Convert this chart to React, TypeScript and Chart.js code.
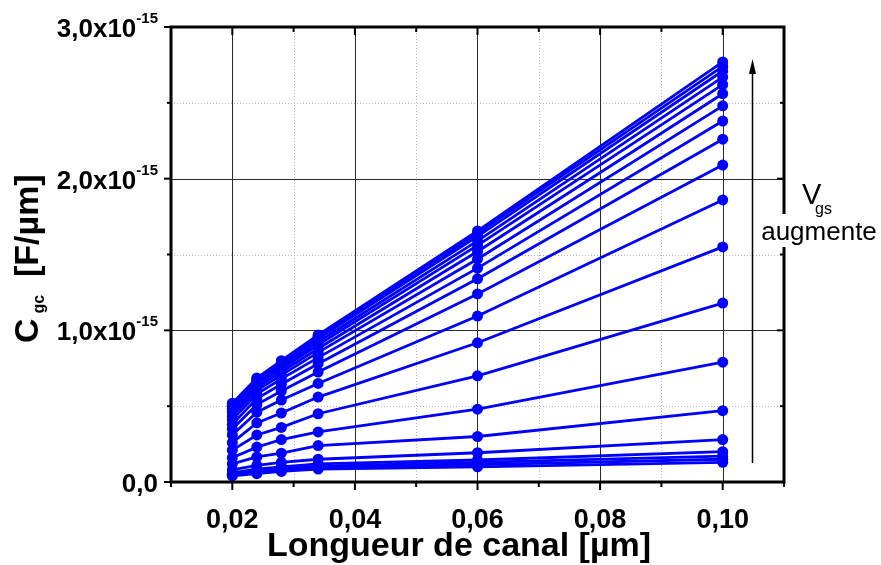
import React, { useEffect, useRef } from 'react';
import { Chart, registerables } from 'chart.js';

Chart.register(...registerables);

// Channel lengths [µm]
const channelLengths = [0.02, 0.024, 0.028, 0.034, 0.06, 0.1];

// Cgc values in units of 1e-15 F/µm, one array per channel length, lowest Vgs first
const cgcAtL020 = [0.04, 0.045, 0.05, 0.06, 0.08, 0.12, 0.16, 0.21, 0.26, 0.31, 0.35, 0.38, 0.41, 0.435, 0.455, 0.47, 0.485, 0.5, 0.51, 0.52];
const cgcAtL024 = [0.055, 0.062, 0.07, 0.085, 0.11, 0.165, 0.23, 0.31, 0.39, 0.46, 0.51, 0.55, 0.58, 0.605, 0.625, 0.645, 0.66, 0.67, 0.68, 0.686];
const cgcAtL028 = [0.07, 0.078, 0.086, 0.1, 0.13, 0.19, 0.28, 0.36, 0.455, 0.54, 0.6, 0.645, 0.68, 0.705, 0.725, 0.745, 0.76, 0.775, 0.79, 0.8];
const cgcAtL034 = [0.085, 0.095, 0.105, 0.12, 0.15, 0.24, 0.33, 0.45, 0.56, 0.65, 0.725, 0.78, 0.82, 0.855, 0.88, 0.905, 0.925, 0.945, 0.96, 0.97];
const cgcAtL060 = [0.1, 0.115, 0.13, 0.145, 0.193, 0.3, 0.48, 0.7, 0.918, 1.094, 1.24, 1.34, 1.41, 1.47, 1.52, 1.56, 1.59, 1.62, 1.64, 1.655];
const cgcAtL100 = [0.13, 0.15, 0.17, 0.2, 0.28, 0.47, 0.79, 1.18, 1.55, 1.86, 2.09, 2.26, 2.38, 2.48, 2.56, 2.62, 2.67, 2.71, 2.74, 2.77];

const cgcColumns = [cgcAtL020, cgcAtL024, cgcAtL028, cgcAtL034, cgcAtL060, cgcAtL100];

// Axes
const xMin = 0.01;
const xMax = 0.11;
const yMin = 0;
const yMax = 3.0;
const xTickValues = [0.02, 0.04, 0.06, 0.08, 0.1];
const xTickLabels = ['0,02', '0,04', '0,06', '0,08', '0,10'];
const xMinorValues = [0.03, 0.05, 0.07, 0.09];
const xAllTicks = [0.01, 0.02, 0.03, 0.04, 0.05, 0.06, 0.07, 0.08, 0.09, 0.1, 0.11];
const yTickValues = [0, 1, 2, 3];
const yTickMantissas = ['0,0', '1,0x10', '2,0x10', '3,0x10'];
const yTickExponents = ['', '-15', '-15', '-15'];
const yMinorValues = [0.5, 1.5, 2.5];
const yAllTicks = [0, 0.5, 1, 1.5, 2, 2.5, 3];

const xTitle = 'Longueur de canal [µm]';
const yTitleMain = 'C';
const yTitleSub = 'gc';
const yTitleUnit = '[F/µm]';
const annotV = 'V';
const annotSub = 'gs';
const annotText = 'augmente';

const FONT = '"Liberation Sans", Arial, Helvetica, sans-serif';
const BLUE = '#0000ff';

const decorPlugin = {
  id: 'decor',
  beforeDatasetsDraw(chart: any) {
    const { ctx, chartArea: a, scales } = chart;
    const x = scales.x;
    const y = scales.y;
    ctx.save();
    ctx.lineWidth = 1;
    ctx.strokeStyle = '#b8b8b8';
    ctx.setLineDash([1, 2]);
    for (const v of xMinorValues) {
      const px = Math.round(x.getPixelForValue(v)) + 0.5;
      ctx.beginPath(); ctx.moveTo(px, a.top); ctx.lineTo(px, a.bottom); ctx.stroke();
    }
    for (const v of yMinorValues) {
      const py = Math.round(y.getPixelForValue(v)) + 0.5;
      ctx.beginPath(); ctx.moveTo(a.left, py); ctx.lineTo(a.right, py); ctx.stroke();
    }
    ctx.setLineDash([]);
    ctx.strokeStyle = '#2a2a2a';
    for (const v of xTickValues) {
      const px = Math.round(x.getPixelForValue(v)) + 0.5;
      ctx.beginPath(); ctx.moveTo(px, a.top); ctx.lineTo(px, a.bottom); ctx.stroke();
    }
    for (const v of [1, 2]) {
      const py = Math.round(y.getPixelForValue(v)) + 0.5;
      ctx.beginPath(); ctx.moveTo(a.left, py); ctx.lineTo(a.right, py); ctx.stroke();
    }
    ctx.restore();
  },
  afterDraw(chart: any) {
    const { ctx, chartArea: a, scales } = chart;
    const x = scales.x;
    const y = scales.y;
    ctx.save();
    ctx.strokeStyle = '#000';
    ctx.fillStyle = '#000';

    // ticks
    ctx.lineWidth = 2;
    for (const v of xAllTicks) {
      const px = x.getPixelForValue(v);
      const major = Math.abs(Math.round(v * 100) % 2) === 0;
      const len = major ? 8 : 5;
      ctx.beginPath(); ctx.moveTo(px, a.bottom); ctx.lineTo(px, a.bottom + len); ctx.stroke();
      ctx.beginPath(); ctx.moveTo(px, a.top); ctx.lineTo(px, a.top + len); ctx.stroke();
    }
    for (const v of yAllTicks) {
      const py = y.getPixelForValue(v);
      const major = Number.isInteger(v);
      const len = major ? 7 : 4;
      ctx.beginPath(); ctx.moveTo(a.left, py); ctx.lineTo(a.left - len, py); ctx.stroke();
      ctx.beginPath(); ctx.moveTo(a.right, py); ctx.lineTo(a.right - len, py); ctx.stroke();
    }

    // frame
    ctx.lineWidth = 3;
    ctx.strokeRect(a.left, a.top, a.right - a.left, a.bottom - a.top);

    // x tick labels
    ctx.font = `bold 27px ${FONT}`;
    ctx.textAlign = 'center';
    ctx.textBaseline = 'alphabetic';
    xTickValues.forEach((v, i) => {
      ctx.fillText(xTickLabels[i], x.getPixelForValue(v), a.bottom + 46);
    });

    // y tick labels with exponent
    const rightEdge = a.left - 13;
    yTickValues.forEach((v, i) => {
      const py = y.getPixelForValue(v);
      ctx.textAlign = 'right';
      let supW = 0;
      if (yTickExponents[i]) {
        ctx.font = `bold 15px ${FONT}`;
        supW = ctx.measureText(yTickExponents[i]).width;
        ctx.fillText(yTickExponents[i], rightEdge, py - 4);
      }
      ctx.font = `bold 26px ${FONT}`;
      ctx.fillText(yTickMantissas[i], rightEdge - supW, py + 10);
    });

    // x title
    ctx.font = `bold 34px ${FONT}`;
    ctx.textAlign = 'center';
    ctx.fillText(xTitle, 459, 556);

    // y title, rotated
    ctx.save();
    ctx.translate(38, 343);
    ctx.rotate(-Math.PI / 2);
    ctx.textAlign = 'left';
    ctx.font = `bold 34px ${FONT}`;
    ctx.fillText(yTitleMain, 0, 0);
    const wC = ctx.measureText(yTitleMain).width;
    ctx.font = `bold 16px ${FONT}`;
    ctx.fillText(yTitleSub, wC + 5, 6);
    ctx.font = `bold 34px ${FONT}`;
    ctx.fillText(yTitleUnit, 66, 0);
    ctx.restore();

    // arrow
    const ax = 752.5;
    ctx.lineWidth = 1.5;
    ctx.beginPath(); ctx.moveTo(ax, 463); ctx.lineTo(ax, 70); ctx.stroke();
    ctx.beginPath();
    ctx.moveTo(ax, 59); ctx.lineTo(ax - 3.5, 74); ctx.lineTo(ax + 3.5, 74); ctx.closePath(); ctx.fill();

    // annotation
    ctx.font = `26px ${FONT}`;
    const augW = ctx.measureText(annotText).width;
    const augCx = 819;
    ctx.fillStyle = '#fff';
    ctx.fillRect(augCx - augW / 2 - 2, 214, augW + 4, 33);
    ctx.fillStyle = '#000';
    ctx.textAlign = 'center';
    ctx.fillText(annotText, augCx, 240);
    ctx.textAlign = 'left';
    ctx.font = `29px ${FONT}`;
    ctx.fillText(annotV, 802, 204);
    ctx.font = `16px ${FONT}`;
    ctx.fillText(annotSub, 815, 214);
    ctx.restore();
  },
};

export default function App() {
  const canvasRef = useRef<HTMLCanvasElement | null>(null);

  useEffect(() => {
    if (!canvasRef.current) return;
    const nSeries = cgcAtL100.length;
    const datasets = [];
    for (let i = 0; i < nSeries; i++) {
      datasets.push({
        label: `Vgs ${i + 1}`,
        data: channelLengths.map((L, j) => ({ x: L, y: cgcColumns[j][i] })),
        borderColor: BLUE,
        backgroundColor: BLUE,
        borderWidth: 2.8,
        pointRadius: 5.5,
        pointBorderWidth: 0,
        pointBackgroundColor: BLUE,
        tension: 0,
        clip: false as any,
      });
    }
    const chart = new Chart(canvasRef.current, {
      type: 'line',
      data: { datasets },
      options: {
        animation: false,
        responsive: true,
        maintainAspectRatio: false,
        layout: { padding: { left: 171, right: 97, top: 27, bottom: 83 } },
        plugins: { legend: { display: false }, tooltip: { enabled: false } },
        scales: {
          x: { type: 'linear', min: xMin, max: xMax, display: false },
          y: { type: 'linear', min: yMin, max: yMax, display: false },
        },
      },
      plugins: [decorPlugin],
    });
    return () => chart.destroy();
  }, []);

  return (
    <div style={{ position: 'fixed', left: 0, top: 0, width: 881, height: 565, background: '#fff' }}>
      <canvas ref={canvasRef} />
    </div>
  );
}
